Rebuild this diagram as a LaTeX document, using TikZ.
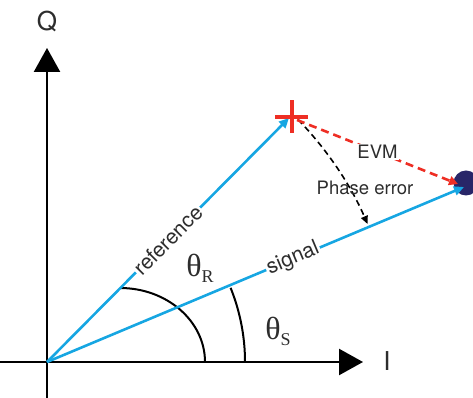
\documentclass[tikz,border=0pt]{standalone}
\usepackage{fontspec}
\setmainfont{TeX Gyre Heros}
\newfontfamily\serfont{Liberation Serif}
\usetikzlibrary{arrows.meta}
\definecolor{vecblue}{RGB}{22,166,226}
\definecolor{errred}{RGB}{238,46,36}
\definecolor{dotnavy}{RGB}{40,38,104}
\definecolor{txtgray}{RGB}{45,45,45}
\tikzset{
  axisline/.style={line width=2.4pt,-{Triangle[length=24pt,width=26pt]}},
  vecline/.style={vecblue,line width=2.6pt,-{Triangle[length=10pt,width=9pt]}},
  anglearc/.style={black,line width=2pt},
  veclabel/.style={fill=white,inner sep=1.5pt,text=txtgray,font=\fontsize{21}{24}\selectfont,sloped},
  errlabel/.style={inner sep=1pt,text=txtgray,font=\fontsize{18.5}{21}\selectfont},
  thetalabel/.style={text=txtgray,font=\serfont\fontsize{32}{35}\selectfont},
  axislabel/.style={text=txtgray,font=\fontsize{26}{30}\selectfont}
}
\begin{document}
\begin{tikzpicture}[x=1pt,y=1pt]
\useasboundingbox (0,0) rectangle (473,398);
% coordinates
\coordinate (O) at (47,36);
\coordinate (qbot) at (47,0);
\coordinate (qtop) at (47,350);
\coordinate (ileft) at (0,36);
\coordinate (iright) at (363,36);
\coordinate (R) at (289,280);
\coordinate (S) at (464,211);
% dot
\fill[dotnavy] (466,215) circle[radius=12.5];
% axes
\draw[axisline] (qbot) -- (qtop);
\draw[axisline] (ileft) -- (iright);
\node[axislabel] (Qlab) at (47,377) {Q};
\node[axislabel] (Ilab) at (387,37) {I};
% angle arcs
\draw[anglearc] (120,110) arc[start angle=90,end angle=0,x radius=85,y radius=74];
\draw[anglearc] (O) ++(22:198) arc[start angle=22,end angle=0,radius=198];
% vectors
\draw[vecline] (O) -- node[veclabel,pos=0.5] (reflab) {reference} (R);
\draw[vecline] (O) -- node[veclabel,pos=0.59] (siglab) {signal} (S);
% cross
\draw[errred,line width=3.4pt] (275,281) -- (308,281);
\draw[errred,line width=3.4pt] (292,265) -- (292,298);
% phase error
\draw[black,line width=1.6pt,dash pattern=on 6pt off 4pt,-{Triangle[length=8pt,width=7pt]}] (O) ++(44:349) arc[start angle=44,end angle=23.3,radius=349];
\node[errlabel] (phlab) at (365,210) {Phase error};
% EVM
\draw[errred,line width=2.6pt,dash pattern=on 8pt off 5pt,-{Triangle[length=9pt,width=9pt]}] (297,278) -- node[errlabel,fill=white,pos=0.5] (evmlab) {EVM} (458,214);
% thetas
\node[thetalabel] (thR) at (200,130) {θ\raisebox{-6pt}{\fontsize{18}{20}\selectfont R}};
\node[thetalabel] (thS) at (278,67) {θ\raisebox{-6pt}{\fontsize{18}{20}\selectfont S}};
\end{tikzpicture}
\end{document}
